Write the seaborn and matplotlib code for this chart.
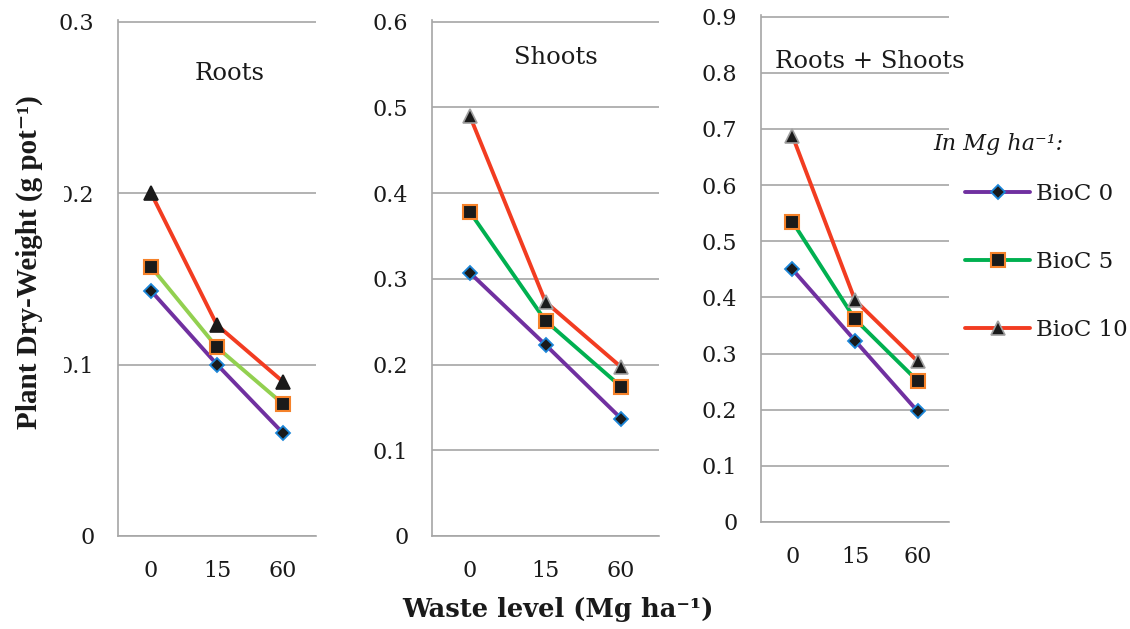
import numpy as np
import pandas as pd
import matplotlib
matplotlib.use("Agg")
import matplotlib.pyplot as plt
from matplotlib.lines import Line2D
from matplotlib.patches import Rectangle
import seaborn as sns

# Waste application levels (Mg ha-1)
levels = ["0", "15", "60"]

# Plant dry weight (g pot-1) per biochar rate
roots_bioc0 = [0.143, 0.100, 0.060]
roots_bioc5 = [0.157, 0.110, 0.077]
roots_bioc10 = [0.200, 0.123, 0.090]

shoots_bioc0 = [0.307, 0.223, 0.137]
shoots_bioc5 = [0.378, 0.251, 0.174]
shoots_bioc10 = [0.490, 0.273, 0.197]

total_bioc0 = [0.450, 0.323, 0.197]
total_bioc5 = [0.535, 0.361, 0.251]
total_bioc10 = [0.688, 0.395, 0.286]

series_names = ["BioC 0", "BioC 5", "BioC 10"]
panel_titles = ["Roots", "Shoots", "Roots + Shoots"]

sns.set_style("white")
plt.rcParams["font.family"] = ["DejaVu Serif"]

GRID = "#A6A6A6"
PURPLE = "#7030A0"
GREEN = "#00B050"
LIGHT_GREEN = "#92D050"
RED = "#F23C21"
BLUE_EDGE = "#1C86D8"
ORANGE_EDGE = "#F5822A"
MARK = "#1A1A1A"
TEXT = "#1A1A1A"

W, H = 1130, 629
fig = plt.figure(figsize=(W / 100, H / 100), dpi=100)


def rect(left, right, top, bottom):
    return [left / W, 1 - bottom / H, (right - left) / W, (bottom - top) / H]


panels = [
    dict(rect=rect(118, 316, 20, 536), data=[roots_bioc0, roots_bioc5, roots_bioc10],
         ymax=0.3, green=LIGHT_GREEN, tri_edge=MARK, title=(230, 73)),
    dict(rect=rect(432, 659, 20, 536), data=[shoots_bioc0, shoots_bioc5, shoots_bioc10],
         ymax=0.6, green=GREEN, tri_edge="#A0A0A0", title=(556, 58)),
    dict(rect=rect(761, 949, 15, 522), data=[total_bioc0, total_bioc5, total_bioc10],
         ymax=0.9, green=GREEN, tri_edge="#A0A0A0", title=(870, 61)),
]

x_pos = np.arange(len(levels))

for i, p in enumerate(panels):
    ax = fig.add_axes(p["rect"])
    colors = [PURPLE, p["green"], RED]
    styles = [
        dict(marker="D", markersize=7, markerfacecolor=MARK, markeredgecolor=BLUE_EDGE, markeredgewidth=1.3),
        dict(marker="s", markersize=10, markerfacecolor=MARK, markeredgecolor=ORANGE_EDGE, markeredgewidth=1.5),
        dict(marker="^", markersize=10, markerfacecolor=MARK, markeredgecolor=p["tri_edge"], markeredgewidth=1.2),
    ]
    for vals, name, c, st in zip(p["data"], series_names, colors, styles):
        df = pd.DataFrame({"pos": x_pos, "weight": vals})
        sns.lineplot(data=df, x="pos", y="weight", color=c, linewidth=2.8,
                     ax=ax, legend=False, **st)

    ax.set_xlim(-0.5, len(levels) - 0.5)
    ax.set_ylim(0, p["ymax"] * 1.003)
    yt = np.round(np.arange(0, p["ymax"] + 1e-9, 0.1), 1)
    ax.set_yticks(yt)
    ax.set_yticklabels(["0" if v == 0 else f"{v:.1f}" for v in yt])
    ax.set_xticks(x_pos)
    ax.set_xticklabels(levels)
    ax.set_xticks(np.arange(-0.5, len(levels), 1.0), minor=True)
    ax.tick_params(axis="x", which="major", length=0, pad=17, labelsize=16, labelcolor=TEXT)
    ax.tick_params(axis="x", which="minor", length=7, width=1.2, color=GRID, direction="out")
    ax.tick_params(axis="y", length=7, width=1.2, color=GRID, direction="out", pad=10,
                   labelsize=16, labelcolor=TEXT)
    ax.yaxis.grid(True, color=GRID, linewidth=1.2)
    ax.xaxis.grid(False)
    ax.set_axisbelow(True)
    for side in ["top", "right"]:
        ax.spines[side].set_visible(False)
    for side in ["left", "bottom"]:
        ax.spines[side].set_color(GRID)
        ax.spines[side].set_linewidth(1.2)
    ax.set_xlabel("")
    ax.set_ylabel("")
    tx, ty = p["title"]
    fig.text(tx / W, 1 - ty / H, panel_titles[i], ha="center", va="center",
             fontsize=17.5, color=TEXT)

# white box behind the y-axis title trims the leftmost tick digits
fig.add_artist(Rectangle((0, 1 - 520 / H), 64 / W, 480 / H, transform=fig.transFigure,
                         facecolor="white", edgecolor="none", zorder=1))

fig.text(29 / W, 1 - 262 / H, "Plant Dry-Weight (g pot⁻¹)", rotation=90,
         ha="center", va="center", fontsize=21, fontweight="bold", color=TEXT,
         family=["Liberation Serif", "DejaVu Serif"], zorder=2)
fig.text(558 / W, 1 - 610 / H, "Waste level (Mg ha⁻¹)", ha="center", va="center",
         fontsize=18.5, fontweight="bold", color=TEXT, zorder=2)

# legend
fig.text(933 / W, 1 - 144 / H, "In Mg ha⁻¹:", ha="left", va="center",
         fontsize=16, style="italic", color=TEXT)
handles = [
    Line2D([], [], color=PURPLE, linewidth=2.8, marker="D", markersize=7,
           markerfacecolor=MARK, markeredgecolor=BLUE_EDGE, markeredgewidth=1.3),
    Line2D([], [], color=GREEN, linewidth=2.8, marker="s", markersize=10,
           markerfacecolor=MARK, markeredgecolor=ORANGE_EDGE, markeredgewidth=1.5),
    Line2D([], [], color=RED, linewidth=2.8, marker="^", markersize=10,
           markerfacecolor=MARK, markeredgecolor="#A0A0A0", markeredgewidth=1.2),
]
fig.legend(handles, series_names, loc="upper left", bbox_to_anchor=(965 / W, 1 - 183 / H),
           frameon=False, fontsize=16.5, handlelength=2.85, handletextpad=0.26,
           labelspacing=2.0, borderpad=0, borderaxespad=0, labelcolor=TEXT)

fig.savefig("out.png", dpi=100)
